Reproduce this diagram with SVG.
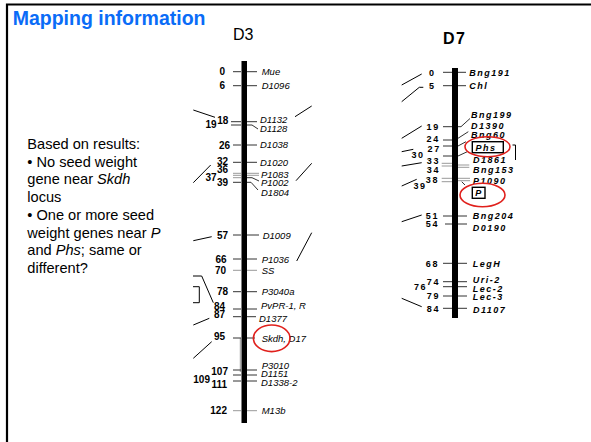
<svg xmlns="http://www.w3.org/2000/svg" width="591" height="442" viewBox="0 0 591 442">
  <style>
    .title { font-family: "Liberation Sans", Arial, sans-serif; font-weight: bold; font-size: 19.5px; fill: #0a6cf7; }
    .body { font-family: "Liberation Sans", Arial, sans-serif; font-size: 14.6px; fill: #000; }
    .chr { font-family: "Liberation Sans", Arial, sans-serif; font-size: 16px; fill: #000; }
    .n3 { font-family: "Liberation Sans", Arial, sans-serif; font-weight: bold; font-size: 10px; text-anchor: end; fill: #000; }
    .m3 { font-family: "Liberation Sans", Arial, sans-serif; font-style: italic; font-size: 9.5px; fill: #000; }
    .n7 { font-family: "Liberation Sans", Arial, sans-serif; font-weight: bold; font-size: 9px; letter-spacing: 1.6px; text-anchor: end; fill: #000; }
    .m7 { font-family: "Liberation Sans", Arial, sans-serif; font-weight: bold; font-style: italic; font-size: 9px; letter-spacing: 1.5px; fill: #000; }
    .tick { stroke: #333; stroke-width: 1; fill: none; }
    .gtick { stroke: #999; stroke-width: 1; fill: none; }
    .lead { stroke: #000; stroke-width: 1; fill: none; }
    .ring { stroke: #e0201c; stroke-width: 1.6; fill: none; }
    .box { stroke: #000; stroke-width: 1.4; fill: #fff; }
  </style>
  <defs>
    <clipPath id="clip-d3">
      <rect x="0" y="0" width="310" height="442"/>
    </clipPath>
  </defs>

  <rect width="591" height="442" fill="#fff"/>
  <!-- slide frame (left and top edges) -->
  <path d="M7,442 V4.5 H591" stroke="#000" stroke-width="2.2" fill="none"/>

  <text class="title" x="12.7" y="25">Mapping information</text>

  <g id="notes" class="body">
    <text x="27.3" y="149">Based on results:</text>
    <text x="27.3" y="166.7">• No seed weight</text>
    <text x="27.3" y="184.3">gene near <tspan font-style="italic">Skdh</tspan></text>
    <text x="27.3" y="201.7">locus</text>
    <text x="27.3" y="220">• One or more seed</text>
    <text x="27.3" y="237.7">weight genes near <tspan font-style="italic">P</tspan></text>
    <text x="27.3" y="255">and <tspan font-style="italic">Phs</tspan>; same or</text>
    <text x="27.3" y="272.7">different?</text>
  </g>

  <!-- Chromosome D3 -->
  <g id="chrom-d3" clip-path="url(#clip-d3)">
    <text class="chr" x="233" y="40">D3</text>
    <rect x="241.5" y="61" width="5.5" height="362" fill="#000"/>
    <line class="gtick" x1="240.3" y1="338" x2="240.3" y2="372"/>

    <!-- ticks -->
    <g class="tick">
      <path d="M233,71.7 H241 M247,71.7 H257"/>
      <path d="M233,85.7 H241 M247,85.7 H257"/>
      <path d="M231,121.7 H241 M247,121.7 H257"/>
      <path d="M231,125 H241 M247,125 H252 L258,129"/>
      <path d="M233,145 H241 M247,145 H257"/>
      <path d="M233,162.3 H241 M247,162.3 H257"/>
      <path d="M247,177.7 H252 L259,181"/>
      <path d="M233,182.3 H241 M247,182.3 H251 L258,190"/>
      <path d="M233,235 H241 M247,235 H259"/>
      <path d="M233,259 H241 M247,259 H257"/>
      <path d="M233,291.7 H241 M247,291.7 H257"/>
      <path d="M233,309 H241 M247,309 H257"/>
      <path d="M233,316.7 H241 M247,316.7 H256"/>
      <path d="M233,338 H241 M247,338 H255"/>
      <path d="M233,370 H241 M247,370 H257"/>
      <path d="M233,375 H241 M247,375 H257"/>
      <path d="M233,381 H241 M247,381 H257"/>
    </g>
    <g class="gtick">
      <path d="M233,173.3 H241 M247,173.3 H259"/>
      <path d="M233,175.3 H241 M247,175.3 H259"/>
      <path d="M233,177.7 H241"/>
      <path d="M233,270.3 H241 M247,270.3 H257"/>
      <path d="M233,410.7 H241 M247,410.7 H257"/>
    </g>

    <!-- map distances -->
    <text class="n3" x="225" y="75.2">0</text>
    <text class="n3" x="225" y="89.2">6</text>
    <text class="n3" x="228.3" y="124">18</text>
    <text class="n3" x="216.7" y="128.3">19</text>
    <text class="n3" x="230" y="148.5">26</text>
    <text class="n3" x="228" y="165.3">32</text>
    <text class="n3" x="228" y="173.3">36</text>
    <text class="n3" x="216.5" y="180.7">37</text>
    <text class="n3" x="228" y="185.7">39</text>
    <text class="n3" x="228" y="238.5">57</text>
    <text class="n3" x="226.7" y="262.5">66</text>
    <text class="n3" x="226" y="273.8">70</text>
    <text class="n3" x="228" y="295.2">78</text>
    <text class="n3" x="225" y="310">84</text>
    <text class="n3" x="225" y="318.3">87</text>
    <text class="n3" x="225" y="339.5">95</text>
    <text class="n3" x="228" y="375">107</text>
    <text class="n3" x="210" y="382.5">109</text>
    <text class="n3" x="227" y="388">111</text>
    <text class="n3" x="227" y="414.2">122</text>

    <!-- markers -->
    <text class="m3" x="261.7" y="75">Mue</text>
    <text class="m3" x="261.7" y="89">D1096</text>
    <text class="m3" x="260" y="123">D1132</text>
    <text class="m3" x="260" y="131.5">D1128</text>
    <text class="m3" x="260" y="148.3">D1038</text>
    <text class="m3" x="260" y="166">D1020</text>
    <text class="m3" x="261" y="177.5">P1083</text>
    <text class="m3" x="261" y="186">P1002</text>
    <text class="m3" x="261" y="195.5">D1804</text>
    <text class="m3" x="262.7" y="238.5">D1009</text>
    <text class="m3" x="261.7" y="262.5">P1036</text>
    <text class="m3" x="261.7" y="273.8">SS</text>
    <text class="m3" x="261.7" y="295.2">P3040a</text>
    <text class="m3" x="261" y="309">PvPR-1, R</text>
    <text class="m3" x="259" y="321.5">D1377</text>
    <text class="m3" x="261.7" y="341.5">Skdh, D17</text>
    <text class="m3" x="261.7" y="369">P3010</text>
    <text class="m3" x="261" y="377.2">D1151</text>
    <text class="m3" x="261" y="385.5">D1338-2</text>
    <text class="m3" x="261.7" y="414.2">M13b</text>
  </g>

  <!-- Chromosome D7 -->
  <g id="chrom-d7">
    <text class="chr" x="443" y="44" font-weight="bold" letter-spacing="1.5">D7</text>
    <rect x="452" y="68" width="6" height="250" fill="#000"/>

    <g class="tick">
      <path d="M443,72.3 H452 M458,72.3 H466"/>
      <path d="M443,85.7 H452 M458,85.7 H466"/>
      <path d="M443,126.7 H452 M458,126.7 H461 L470,118.5"/>
      <path d="M443,140 H452 M458,138.3 L468.3,131.7"/>
      <path d="M443,146 H452 M458,146 L466,141.7"/>
      <path d="M443,156 H452 M458,156 L467.3,151.7"/>
      <path d="M443,216 H452 M458,216 H467"/>
      <path d="M445,224 H452 M458,224 H467"/>
      <path d="M443,263.3 H452 M458,263.3 H467"/>
      <path d="M443,281.7 H452 M458,281.7 H467"/>
      <path d="M443,286.7 H452 M458,286.7 H467"/>
      <path d="M443,296 H452 M458,296 H467"/>
      <path d="M443,308.3 H452 M458,308.3 H467"/>
      <path d="M461.7,181.7 L465,185"/>
    </g>
    <g class="gtick">
      <path d="M441.7,163.3 H452 M458,165 H469.3"/>
      <path d="M441.7,166 H452 M458,167.3 H469.3"/>
      <path d="M441.7,178.3 H452 M458,178.3 H470"/>
      <path d="M441.7,181.7 H452 M458,180.7 H470"/>
    </g>

    <text class="n7" x="435.6" y="75.5">0</text>
    <text class="n7" x="435.6" y="89">5</text>
    <text class="n7" x="439.8" y="130">19</text>
    <text class="n7" x="439.8" y="141.6">24</text>
    <text class="n7" x="440.8" y="151.6">27</text>
    <text class="n7" x="424.6" y="158.3">30</text>
    <text class="n7" x="440" y="164.3">33</text>
    <text class="n7" x="440" y="173.3">34</text>
    <text class="n7" x="439" y="182.6">38</text>
    <text class="n7" x="426.6" y="189">39</text>
    <text class="n7" x="439" y="219.3">51</text>
    <text class="n7" x="439" y="227.3">54</text>
    <text class="n7" x="439" y="266.6">68</text>
    <text class="n7" x="440" y="285">74</text>
    <text class="n7" x="427.2" y="290">76</text>
    <text class="n7" x="440" y="299.3">79</text>
    <text class="n7" x="440" y="311.6">84</text>

    <text class="m7" x="469.3" y="75.5">Bng191</text>
    <text class="m7" x="469.3" y="89">Chl</text>
    <text class="m7" x="471" y="117.6">Bng199</text>
    <text class="m7" x="471" y="129.3">D1390</text>
    <text class="m7" x="471" y="138.3">Bng60</text>
    <text class="m7" x="473" y="163.3">D1861</text>
    <text class="m7" x="473" y="173.3">Bng153</text>
    <text class="m7" x="473" y="184">P1090</text>
    <text class="m7" x="472.7" y="219.3">Bng204</text>
    <text class="m7" x="472.7" y="230.6">D0190</text>
    <text class="m7" x="472.7" y="267.3">LegH</text>
    <text class="m7" x="472.7" y="283.3">Uri-2</text>
    <text class="m7" x="472.7" y="291.6">Lec-2</text>
    <text class="m7" x="472.7" y="300">Lec-3</text>
    <text class="m7" x="473" y="312.6">D1107</text>

    <!-- boxed loci -->
    <rect class="box" x="472.3" y="141.7" width="31" height="11"/>
    <text class="m7" x="475.5" y="150.8">Phs</text>
    <rect class="box" x="472.3" y="187.3" width="12.7" height="11"/>
    <text class="m7" x="475.3" y="196.4">P</text>
    <path class="lead" d="M512.5,145 H515.5 V160"/>
  </g>

  <!-- leader lines toward neighbouring maps -->
  <g id="connectors" class="lead">
    <path d="M193.3,110 L215,117.3"/>
    <path d="M295,116.7 L311.7,106"/>
    <path d="M193.3,182.7 L210.7,165"/>
    <path d="M296,180.7 L311.7,163.3"/>
    <path d="M193.3,240.7 L211.7,236.7"/>
    <path d="M296.7,261 L311.7,232.7"/>
    <path d="M193,276 H201.7 L213.3,302.7"/>
    <path d="M193,286.7 H199.3 V302.7 H193"/>
    <path d="M193.3,325 L209.3,318.3"/>
    <path d="M193.3,358.3 L211.7,341.7"/>

    <path d="M401.7,85 L421.7,74"/>
    <path d="M401.7,101.7 L419.3,87.3 H423.3"/>
    <path d="M401.7,138.3 L421.7,126"/>
    <path d="M401.7,151.7 L413.3,149.3"/>
    <path d="M401.7,166 L421.7,162.7"/>
    <path d="M401.7,186 L416.7,179.3"/>
    <path d="M401.7,221.7 L421.7,215"/>
    <path d="M401.7,298.3 L421.7,306.7"/>
  </g>

  <!-- highlighted loci -->
  <g id="highlights">
    <ellipse class="ring" cx="271.7" cy="338.3" rx="18.3" ry="13.3"/>
    <ellipse class="ring" cx="487.5" cy="146.7" rx="22.5" ry="10"/>
    <ellipse class="ring" cx="482.5" cy="195" rx="22.5" ry="11.7"/>
  </g>
</svg>
